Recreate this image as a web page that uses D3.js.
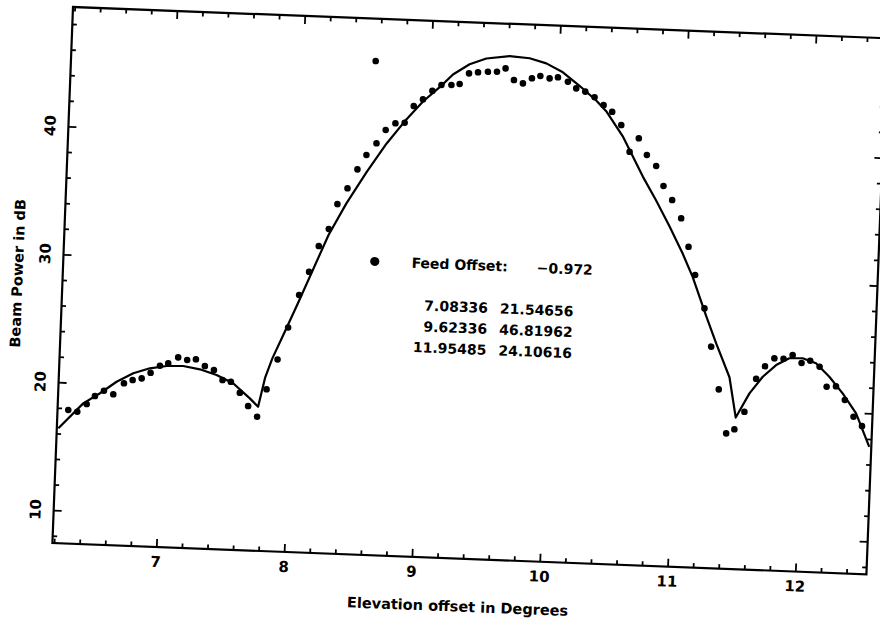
<!DOCTYPE html>
<html><head><meta charset="utf-8">
<script src="https://cdn.jsdelivr.net/npm/d3@7"></script>
<style>
body{margin:0;background:#fff}
svg{display:block}
text{font-family:"DejaVu Sans",sans-serif;font-weight:bold;fill:#000}
</style>
</head><body>
<svg id="c" width="880" height="623"></svg>
<script>
// Measured beam power (dots)
const obsX = [6.271,6.342,6.413,6.475,6.544,6.618,6.698,6.765,6.835,6.903,6.974,7.038,7.114,7.185,7.253,7.325,7.397,7.467,7.533,7.606,7.675,7.748,
  7.814,7.891,7.964,8.040,8.111,8.179,8.252,8.312,8.386,8.458,8.524,8.599,8.667,8.741,8.813,8.879,8.949,9.020,9.089,9.167,9.231,9.301,9.371,9.448,9.519,9.585,
  9.654,9.725,9.794,9.859,9.932,9.997,10.076,10.143,10.215,10.289,10.362,10.431,10.506,10.579,10.647,10.715,10.791,10.854,10.926,11.002,11.068,11.128,11.211,11.275,11.347,11.418,11.481,
  11.554,11.636,11.701,11.772,11.844,11.914,11.986,12.053,12.128,12.189,12.262,12.335,12.408,12.477,
  8.568];
const obsY = [17.86,17.75,18.38,19.03,19.47,19.22,20.11,20.39,20.55,21.01,21.59,21.80,22.30,22.12,22.20,21.70,21.41,20.66,20.55,19.72,18.71,17.90,
  20.07,22.43,24.96,27.53,29.37,31.41,32.77,34.74,36.00,37.51,38.66,39.60,40.67,41.22,41.29,42.62,43.17,43.87,44.35,44.38,44.48,45.34,45.45,45.52,45.55,45.84,
  44.95,44.72,45.14,45.35,45.19,45.30,44.98,44.49,44.26,43.85,43.27,42.77,41.76,39.70,40.78,39.50,38.67,37.13,36.06,34.66,32.46,30.28,27.70,24.73,21.42,18.01,18.35,
  19.75,22.36,23.36,24.01,24.00,24.32,23.73,23.93,23.49,21.95,22.01,20.97,19.69,18.99,
  46.02];

// Fitted beam (solid line)
const fitX = [6.199,6.386,6.514,6.640,6.768,6.896,7.026,7.156,7.287,7.419,7.551,7.686,7.753,
  7.80,7.85,7.93,8.03,8.252,8.381,8.529,8.677,8.813,8.950,9.089,9.176,9.303,9.432,9.613,9.770,9.902,10.034,10.168,10.303,10.384,10.52,10.69,10.80,10.913,11.025,11.11,11.227,11.313,11.427,11.488,
  11.588,11.687,11.788,11.889,11.993,12.099,12.207,12.316,12.427,12.54];
const fitY = [16.40,18.42,19.26,20.21,20.92,21.36,21.59,21.64,21.43,21.03,20.44,19.31,18.68,
  21.0,22.5,24.4,26.8,32.3,34.8,37.3,39.6,41.4,43.0,44.3,45.2,46.05,46.55,46.81,46.70,46.35,45.7,44.7,43.6,42.8,40.9,37.8,36.0,34.0,31.9,30.1,27.1,25.0,22.4,19.27,
  21.20,22.54,23.49,24.06,24.10,23.75,22.74,21.48,19.96,17.39];

const xMajorTicks = [7,8,9,10,11,12];
const yMajorTicks = [10,20,30,40];
const xTitle = "Elevation offset in Degrees";
const yTitle = "Beam Power in dB";
const legendLabel = "Feed Offset:";
const legendValue = "\u22120.972";
const fitCenters = ["7.08336","9.62336","11.95485"];
const fitPeaks = ["21.54656","46.81962","24.10616"];

const W = 814.6, H = 536.4;
const svg = d3.select("#c");
svg.append("rect").attr("width",880).attr("height",623).attr("fill","#fff");
const g = svg.append("g").attr("transform","translate(73,7) rotate(2.2)");

const x = d3.scaleLinear().domain([6.187,12.556]).range([0,W]);
const y = d3.scaleLinear().domain([7.43,49.33]).range([H,0]);

const xMinor = d3.range(32).map(i => +(6.2 + 0.2*i).toFixed(1)).filter(v => Math.abs(v-Math.round(v))>1e-6 && v < 12.55);
const yMinor = d3.range(8,50,2).filter(v => v%10!==0);

function styleAxis(sel){
  sel.select(".domain").remove();
  sel.selectAll(".tick line").attr("stroke","#000").attr("stroke-width",1.8);
  sel.selectAll(".tick text").remove();
}
const axes = [
  [d3.axisBottom, `translate(0,${H})`, x, xMajorTicks, xMinor],
  [d3.axisTop, `translate(0,0)`, x, xMajorTicks, xMinor],
  [d3.axisLeft, `translate(0,0)`, y, yMajorTicks, yMinor],
  [d3.axisRight, `translate(${W},0)`, y, yMajorTicks, yMinor]
];
axes.forEach(([fn, tr, sc, maj, mn]) => {
  g.append("g").attr("transform",tr).call(fn(sc).tickValues(maj).tickSize(-8).tickFormat("")).call(styleAxis);
  g.append("g").attr("transform",tr).call(fn(sc).tickValues(mn).tickSize(-4.5).tickFormat("")).call(styleAxis);
});

g.append("rect").attr("width",W).attr("height",H).attr("fill","none").attr("stroke","#000").attr("stroke-width",2.2);

// tick labels
g.selectAll(".xl").data(xMajorTicks).join("text").attr("class","xl")
  .attr("x",d=>x(d)).attr("y",H+20).attr("text-anchor","middle").attr("font-size",15).text(d=>d);
g.selectAll(".yl").data(yMajorTicks).join("text").attr("class","yl")
  .attr("transform",d=>`translate(-13,${y(d)}) rotate(-90)`).attr("text-anchor","middle").attr("font-size",15).text(d=>d);

// titles
g.append("text").attr("x",W/2).attr("y",H+53).attr("text-anchor","middle").attr("font-size",14.5).text(xTitle);
g.append("text").attr("transform",`translate(-40,${H/2}) rotate(-90)`).attr("text-anchor","middle").attr("font-size",14.5).text(yTitle);

// fitted curve
const line = d3.line().x(d=>x(d[0])).y(d=>y(d[1]));
g.append("path").datum(d3.zip(fitX,fitY)).attr("d",line)
  .attr("fill","none").attr("stroke","#000").attr("stroke-width",2.2).attr("stroke-linejoin","round");

// observed points
g.selectAll(".pt").data(d3.zip(obsX,obsY)).join("circle").attr("class","pt")
  .attr("cx",d=>x(d[0])).attr("cy",d=>y(d[1])).attr("r",3.3).attr("fill","#000");

// annotation
g.append("circle").attr("cx",x(8.621)).attr("cy",y(30.37)).attr("r",4.6).attr("fill","#000");
g.append("text").attr("x",x(8.909)).attr("y",y(29.99)).attr("font-size",14).text(legendLabel);
g.append("text").attr("x",x(9.889)).attr("y",y(29.97)).attr("font-size",14).text(legendValue);
const rowY = [26.69,25.05,23.41];
g.selectAll(".c1").data(fitCenters).join("text").attr("class","c1")
  .attr("x",x(9.520)).attr("y",(d,i)=>y(rowY[i])).attr("text-anchor","end").attr("font-size",14).text(d=>d);
g.selectAll(".c2").data(fitPeaks).join("text").attr("class","c2")
  .attr("x",x(9.614)).attr("y",(d,i)=>y(rowY[i])).attr("font-size",14).text(d=>d);
</script>
</body></html>
